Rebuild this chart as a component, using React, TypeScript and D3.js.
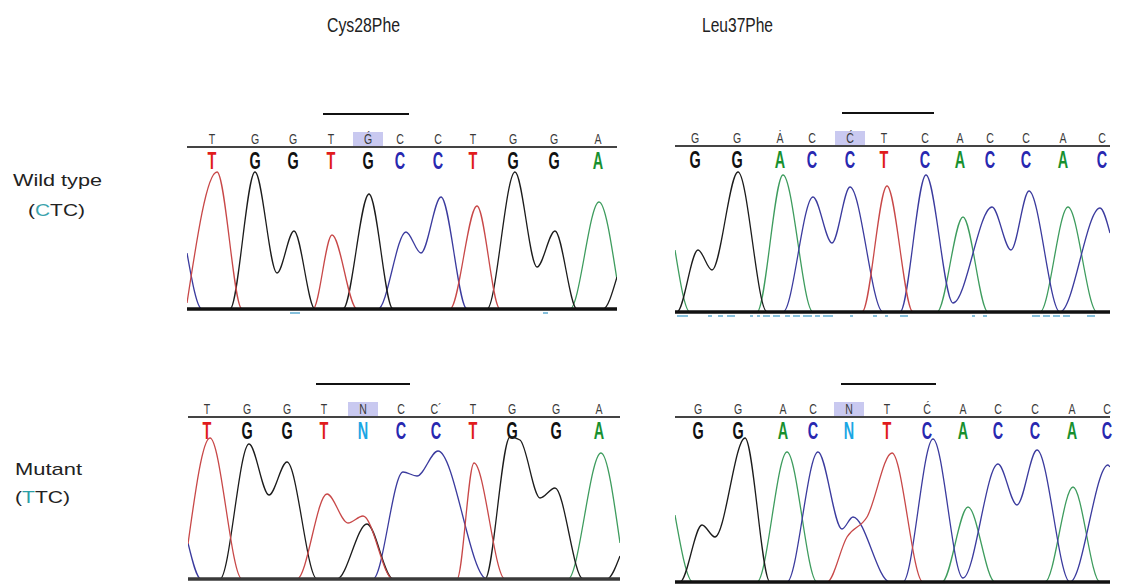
import React from 'react';
import * as d3 from 'd3';

type Pt = [number, number];

// Titles / row labels
const columnTitles = ['Cys28Phe', 'Leu37Phe'];

// Cys28Phe wild type (scan offset, intensity)
const cysWtSmall = ['T', 'G', 'G', 'T', 'Ǵ', 'C', 'C', 'T', 'G', 'G', 'A'];
const cysWtCalls = ['T', 'G', 'G', 'T', 'G', 'C', 'C', 'T', 'G', 'G', 'A'];
const cysWtPos = [25, 68, 106, 144, 181, 213, 251, 286, 326, 367, 411];
const cysWtA: Pt[] = [[0, 0], [383, 0], [412, 107], [430, 29]];
const cysWtC: Pt[] = [[0, 56], [15, 0], [191, 0], [219, 77], [234, 56], [254, 112], [280, 0], [430, 0]];
const cysWtG: Pt[] = [[0, 0], [43, 0], [68, 137], [90, 36], [107, 78], [128, 0], [156, 0], [182, 115], [206, 0], [300, 0], [328, 137], [350, 42], [368, 78], [390, 0], [416, 0], [430, 32]];
const cysWtT: Pt[] = [[0, 6], [30, 137], [55, 0], [126, 0], [145, 74], [170, 0], [263, 0], [290, 103], [313, 0], [430, 0]];
const cysWtQual: Pt[] = [[103, 113], [356, 361]];

// Leu37Phe wild type
const leuWtSmall = ['G', 'G', 'Ȧ', 'C', 'Ć', 'T', 'C', 'A', 'C', 'C', 'A', 'C'];
const leuWtCalls = ['G', 'G', 'A', 'C', 'C', 'T', 'C', 'A', 'C', 'C', 'A', 'C'];
const leuWtPos = [20, 62, 105, 137, 175, 209, 250, 285, 315, 351, 388, 427];
const leuWtA: Pt[] = [[0, 62], [15, 0], [82, 0], [108, 137], [138, 0], [262, 0], [288, 95], [313, 0], [365, 0], [393, 105], [422, 0], [435, 0]];
const leuWtC: Pt[] = [[0, 0], [108, 0], [138, 115], [157, 69], [175, 125], [208, 0], [225, 0], [251, 137], [278, 9], [317, 105], [336, 62], [354, 121], [385, 0], [425, 104], [435, 79]];
const leuWtG: Pt[] = [[0, 0], [2, 0], [23, 62], [37, 42], [63, 140], [92, 0], [435, 0]];
const leuWtT: Pt[] = [[0, 0], [187, 0], [212, 126], [238, 0], [435, 0]];
const leuWtQual: Pt[] = [[2, 13], [33, 37], [43, 48], [52, 60], [75, 78], [82, 85], [88, 95], [98, 105], [110, 115], [118, 125], [128, 137], [140, 145], [148, 158], [175, 178], [198, 202], [210, 213], [225, 233], [297, 300], [308, 312], [357, 365], [368, 375], [378, 385], [388, 395], [412, 420]];

// Cys28Phe mutant
const cysMutSmall = ['T', 'G', 'G', 'T', 'N', 'C', 'C´', 'T', 'G', 'G', 'A'];
const cysMutCalls = ['T', 'G', 'G', 'T', 'N', 'C', 'C', 'T', 'G', 'G', 'A'];
const cysMutPos = [19, 59, 99, 136, 175, 213, 248, 285, 324, 368, 411];
const cysMutA: Pt[] = [[0, 0], [380, 0], [413, 126], [432, 36]];
const cysMutC: Pt[] = [[0, 36], [13, 0], [185, 0], [215, 107], [229, 103], [250, 128], [299, 0], [432, 0]];
const cysMutG: Pt[] = [[0, 0], [32, 0], [61, 135], [81, 84], [99, 117], [129, 0], [149, 0], [179, 55], [205, 0], [297, 0], [322, 142], [332, 139], [352, 81], [367, 91], [395, 0], [419, 0], [432, 23]];
const cysMutT: Pt[] = [[0, 35], [22, 141], [54, 0], [109, 0], [139, 85], [160, 56], [175, 63], [205, 0], [269, 0], [286, 116], [317, 0], [432, 0]];

// Leu37Phe mutant
const leuMutSmall = ['G', 'G', 'A', 'C', 'N', 'T', 'Ć', 'A', 'C', 'C', 'A', 'C'];
const leuMutCalls = ['G', 'G', 'A', 'C', 'N', 'T', 'C', 'A', 'C', 'C', 'A', 'C'];
const leuMutPos = [23, 63, 108, 138, 174, 212, 252, 288, 323, 360, 397, 432];
const leuMutA: Pt[] = [[0, 67], [18, 0], [82, 0], [112, 130], [142, 0], [267, 0], [293, 75], [320, 0], [370, 0], [398, 95], [425, 0], [435, 0]];
const leuMutC: Pt[] = [[0, 0], [112, 0], [143, 130], [167, 53], [178, 65], [215, 0], [228, 0], [258, 143], [288, 4], [323, 118], [342, 77], [362, 132], [395, 0], [433, 117], [435, 115]];
const leuMutG: Pt[] = [[0, 0], [5, 0], [27, 57], [40, 45], [70, 144], [95, 0], [435, 0]];
const leuMutT: Pt[] = [[0, 0], [152, 0], [172, 45], [192, 65], [217, 129], [248, 0], [435, 0]];

const CALL_COLOR: Record<string, string> = { T: '#e01c1c', G: '#111111', C: '#2828b0', A: '#17902f', N: '#1aa6e4' };
const TRACE_COLOR: Record<string, string> = { A: '#3e9c5e', C: '#3b3b9e', G: '#1c1c1c', T: '#c84848' };

interface Panel {
  left: number; width: number; sep: number; base: number;
  small: string[]; calls: string[]; pos: number[];
  hi: number; codon: number;
  traces: Record<string, Pt[]>;
  qual: Pt[];
  baseColor: string;
}

const panels: Panel[] = [
  { left: 187, width: 430, sep: 147, base: 309, small: cysWtSmall, calls: cysWtCalls, pos: cysWtPos, hi: 4, codon: 3,
    traces: { A: cysWtA, C: cysWtC, G: cysWtG, T: cysWtT }, qual: cysWtQual, baseColor: '#111' },
  { left: 675, width: 435, sep: 146, base: 312, small: leuWtSmall, calls: leuWtCalls, pos: leuWtPos, hi: 4, codon: 4,
    traces: { A: leuWtA, C: leuWtC, G: leuWtG, T: leuWtT }, qual: leuWtQual, baseColor: '#111' },
  { left: 188, width: 432, sep: 417, base: 579, small: cysMutSmall, calls: cysMutCalls, pos: cysMutPos, hi: 4, codon: 3,
    traces: { A: cysMutA, C: cysMutC, G: cysMutG, T: cysMutT }, qual: [], baseColor: '#3a3a3a' },
  { left: 675, width: 435, sep: 417, base: 582, small: leuMutSmall, calls: leuMutCalls, pos: leuMutPos, hi: 4, codon: 4,
    traces: { A: leuMutA, C: leuMutC, G: leuMutG, T: leuMutT }, qual: [], baseColor: '#111' },
];

const sans = '"Liberation Sans", Arial, sans-serif';

const Chromatogram: React.FC<{ p: Panel; id: number }> = ({ p, id }) => {
  const x = d3.scaleLinear().domain([0, p.width]).range([p.left, p.left + p.width]);
  const y = d3.scaleLinear().domain([0, 150]).range([p.base, p.base - 150]);
  const line = d3.line<Pt>().x(d => x(d[0])).y(d => y(d[1])).curve(d3.curveMonotoneX);
  const clipId = `clip-${id}`;
  return (
    <g>
      <defs>
        <clipPath id={clipId}>
          <rect x={p.left} y={p.sep + 4} width={p.width} height={p.base - p.sep} />
        </clipPath>
      </defs>
      {/* codon overline */}
      <line x1={x(p.pos[p.codon] - 8)} x2={x(p.pos[p.codon + 2] + 9)} y1={p.sep - 33} y2={p.sep - 33} stroke="#111" strokeWidth={2} />
      {/* highlighted base */}
      <rect x={x(p.pos[p.hi] - 15)} y={p.sep - 15} width={x(30) - x(0)} height={14} fill="#c9c9f0" />
      {p.small.map((s, i) => (
        <text key={`s${i}`} transform={`translate(${x(p.pos[i])},${p.sep - 3}) scale(0.68,1)`} textAnchor="middle"
          fontFamily={sans} fontSize={15.5} fill="#3a3a3a">{s}</text>
      ))}
      <line x1={p.left} x2={p.left + p.width} y1={p.sep} y2={p.sep} stroke="#444" strokeWidth={2} />
      {p.calls.map((c, i) => (
        <text key={`c${i}`} transform={`translate(${x(p.pos[i])},${p.sep + 22}) scale(0.6,1)`} textAnchor="middle"
          fontFamily={sans} fontWeight="bold" fontSize={24} fill={CALL_COLOR[c]}>{c}</text>
      ))}
      <g clipPath={`url(#${clipId})`}>
        {['A', 'C', 'G', 'T'].map(b => (
          <path key={b} d={line(p.traces[b]) ?? ''} fill="none" stroke={TRACE_COLOR[b]} strokeWidth={1.3} strokeLinejoin="round" />
        ))}
      </g>
      <line x1={p.left} x2={p.left + p.width} y1={p.base} y2={p.base} stroke={p.baseColor} strokeWidth={3.5} />
      {p.qual.map((q, i) => (
        <line key={`q${i}`} x1={x(q[0])} x2={x(q[1])} y1={p.base + 4} y2={p.base + 4} stroke="#86c0dc" strokeWidth={2} />
      ))}
    </g>
  );
};

export default function App() {
  return (
    <svg width={1121} height={584} style={{ position: 'absolute', left: 0, top: 0, background: '#fff' }}>
      <rect width={1121} height={584} fill="#fff" />
      <text x={327} y={32} fontFamily={sans} fontSize={20} textLength={73} lengthAdjust="spacingAndGlyphs" fill="#222">{columnTitles[0]}</text>
      <text x={702} y={32} fontFamily={sans} fontSize={20} textLength={71} lengthAdjust="spacingAndGlyphs" fill="#222">{columnTitles[1]}</text>

      <text x={13} y={186} fontFamily={sans} fontSize={17} textLength={89} lengthAdjust="spacingAndGlyphs" fill="#222">Wild type</text>
      <text x={28} y={216} fontFamily={sans} fontSize={17} textLength={57} lengthAdjust="spacingAndGlyphs" fill="#222">
        (<tspan fill="#3aa3ad">C</tspan>TC)
      </text>
      <text x={15} y={475} fontFamily={sans} fontSize={17} textLength={67} lengthAdjust="spacingAndGlyphs" fill="#222">Mutant</text>
      <text x={15} y={503} fontFamily={sans} fontSize={17} textLength={55} lengthAdjust="spacingAndGlyphs" fill="#222">
        (<tspan fill="#2a9ea6">T</tspan>TC)
      </text>

      {panels.map((p, i) => <Chromatogram key={i} p={p} id={i} />)}
    </svg>
  );
}
